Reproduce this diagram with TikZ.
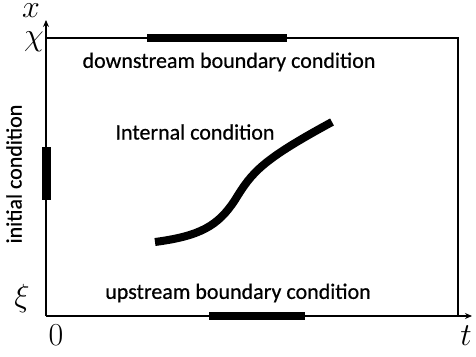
\RequirePackage{fix-cm}
\documentclass[tikz,border=0pt]{standalone}
\usepackage{fontspec}
\newfontfamily\lblfont[UprightFeatures={FakeBold=0.6}]{Carlito}
\usetikzlibrary{arrows.meta}
\tikzset{
  axis/.style={line width=1.4pt,-{Stealth[length=7pt,width=6pt]}},
  frame/.style={line width=1.2pt},
  bc/.style={line width=8pt},
  lbl/.style={font=\lblfont\fontsize{22}{24}\selectfont, inner sep=0pt},
  mlbl/.style={font=\fontsize{32}{34}\selectfont, inner sep=0pt}
}
\begin{document}
\begin{tikzpicture}[x=1pt,y=-1pt]
\useasboundingbox (0,0) rectangle (476,356);
\coordinate (O) at (46,316);
\coordinate (Xtop) at (46,20);
\coordinate (Tend) at (472,316);
\coordinate (TL) at (46,38);
\coordinate (TR) at (458,38);
\coordinate (BR) at (458,316);
\draw[axis] (O) -- (Xtop);
\draw[axis] (O) -- (Tend);
\draw[frame] (TL) -- (TR) -- (BR);
\coordinate (d1) at (147,38); \coordinate (d2) at (287,38);
\coordinate (u1) at (209,316); \coordinate (u2) at (305,316);
\coordinate (i1) at (46,147); \coordinate (i2) at (46,200);
\draw[bc] (d1) -- (d2);
\draw[bc] (u1) -- (u2);
\draw[line width=9pt] (i1) -- (i2);
\coordinate (c1) at (155,242);
\coordinate (c2) at (332,122);
\draw[line width=8pt] (c1) .. controls (200,236) and (218,226) .. (235,200)
  .. controls (252,172) and (262,160) .. (c2);
\node[lbl] (dn) at (229,62) {downstream boundary condition};
\node[lbl] (up) at (238,293) {upstream boundary condition};
\node[lbl] (ic) at (195,132) {Internal condition};
\node[lbl,rotate=90] (init) at (14,174) {initial condition};
\node[mlbl] (xl) at (31,11) {$x$};
\node[mlbl] (chi) at (34,42) {$\chi$};
\node[mlbl] (xi) at (22,298) {$\xi$};
\node[mlbl] (zero) at (56,335) {$0$};
\node[mlbl] (tl) at (466,336) {$t$};
\end{tikzpicture}
\end{document}
